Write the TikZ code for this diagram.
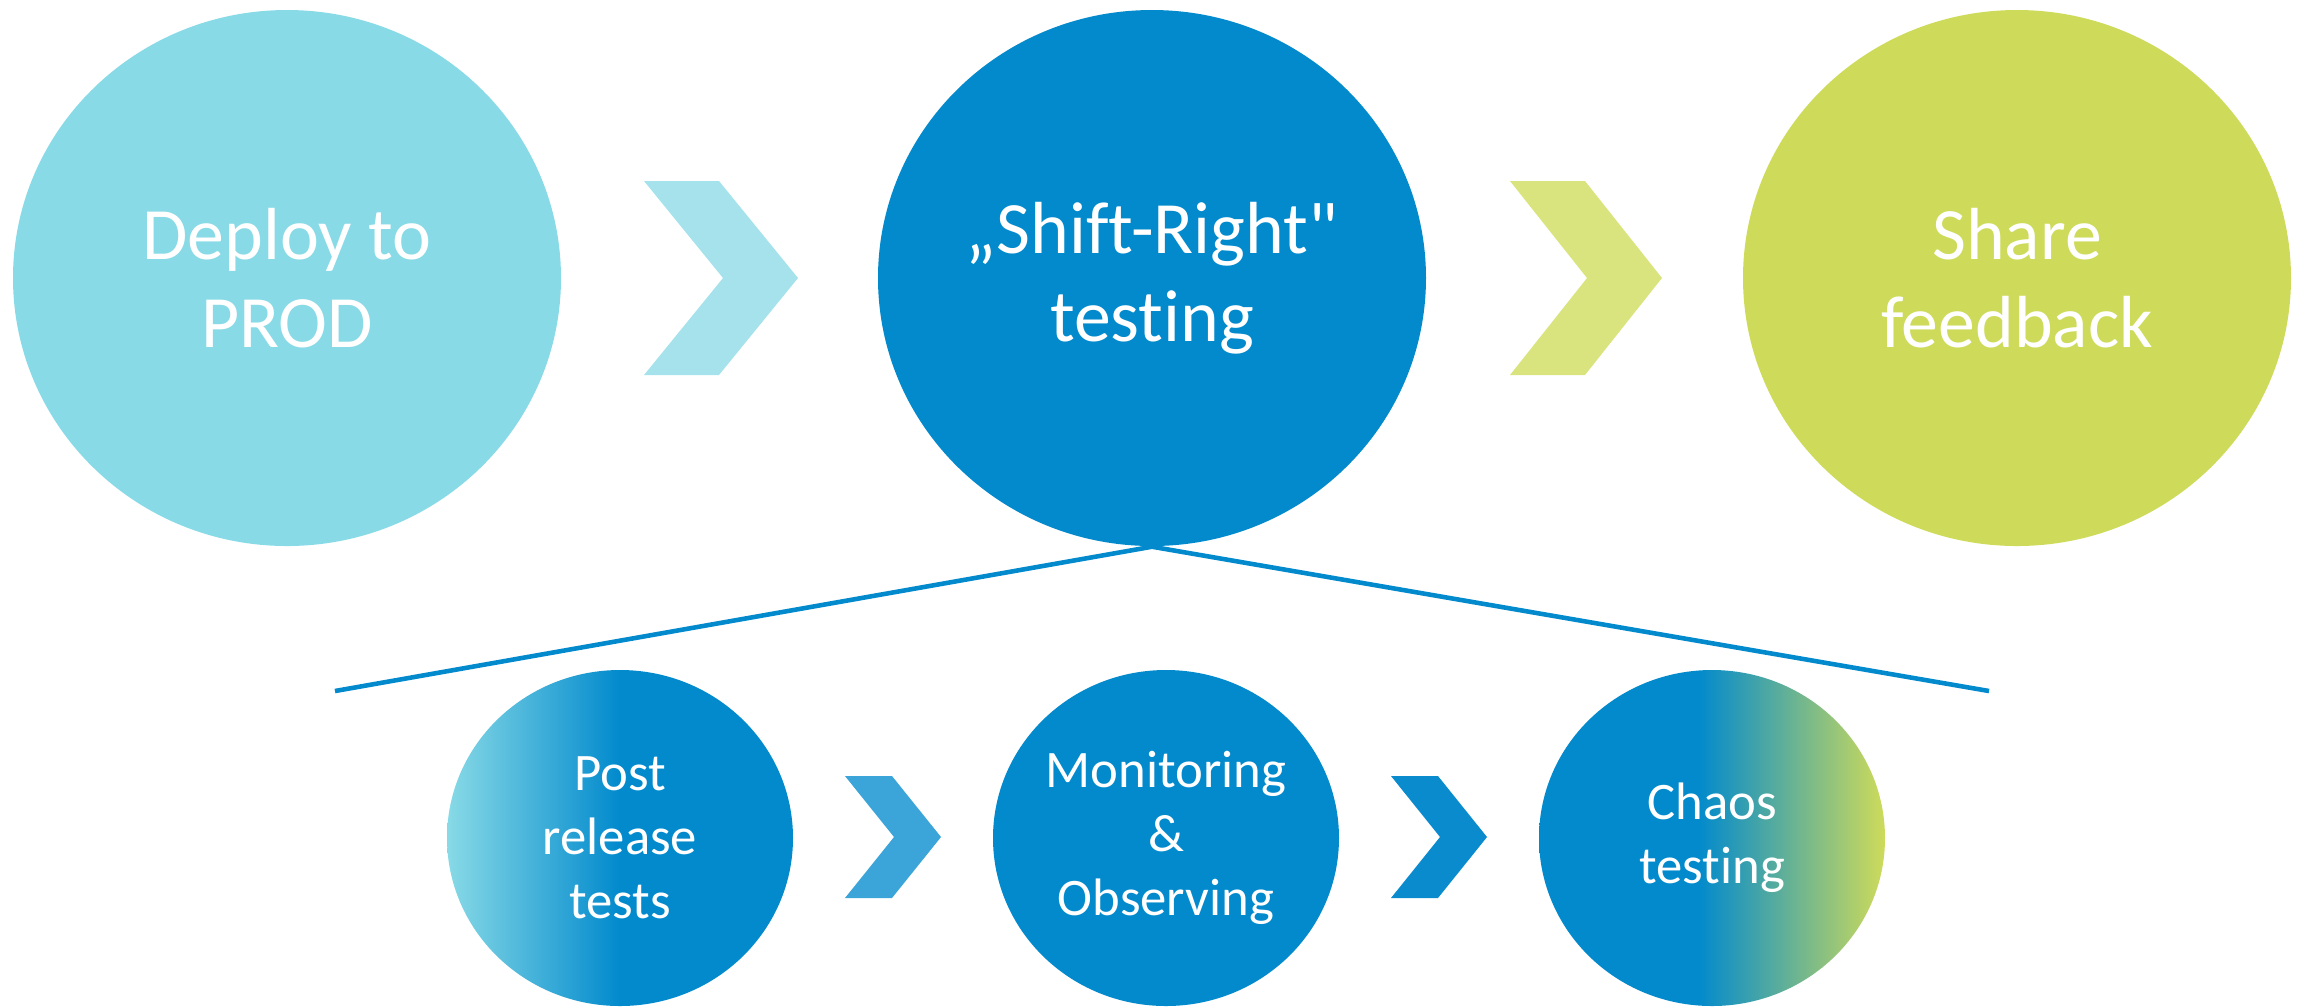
\documentclass[tikz,border=0pt]{standalone}
\usepackage{fontspec}
\newfontfamily\carl{Carlito}[Ligatures={NoCommon,NoContextual,NoRequired}]
\usetikzlibrary{shapes.geometric}
\definecolor{cyanA}{HTML}{88DAE6}
\definecolor{cyanB}{HTML}{A5E2EC}
\definecolor{blueA}{HTML}{028ACD}
\definecolor{greenA}{HTML}{CEDB5A}
\definecolor{greenB}{HTML}{DAE47E}
\definecolor{blueC}{HTML}{3BA4D8}
\definecolor{blueD}{HTML}{0A8BCD}
\pgfdeclarehorizontalshading{postshade}{100bp}{color(0bp)=(cyanA); color(25bp)=(cyanA); color(50bp)=(blueA); color(100bp)=(blueA)}
\pgfdeclarehorizontalshading{chaosshade}{100bp}{color(0bp)=(blueA); color(48bp)=(blueA); color(75bp)=(greenA); color(100bp)=(greenA)}
\tikzset{
  big/.style={ellipse, minimum width=5.48cm, minimum height=5.36cm, inner sep=0pt, text=white, align=center, font=\carl\fontsize{21}{25}\selectfont},
  small/.style={ellipse, minimum width=3.46cm, minimum height=3.36cm, inner sep=0pt, text=white, align=center, font=\carl\fontsize{15}{18.2}\selectfont},
  link/.style={draw=blueA, line width=1.3pt}
}
\begin{document}
\begin{tikzpicture}
\useasboundingbox (0,0) rectangle (23.05,-10.06);
% top chevrons
\fill[cyanB] (6.44,-1.81) -- (7.19,-1.81) -- (7.98,-2.78) -- (7.19,-3.75) -- (6.44,-3.75) -- (7.23,-2.78) -- cycle;
\fill[greenB] (15.10,-1.81) -- (15.85,-1.81) -- (16.62,-2.78) -- (15.85,-3.75) -- (15.10,-3.75) -- (15.87,-2.78) -- cycle;
% bottom chevrons
\fill[blueC] (8.45,-7.76) -- (8.92,-7.76) -- (9.41,-8.37) -- (8.92,-8.98) -- (8.45,-8.98) -- (8.94,-8.37) -- cycle;
\fill[blueD] (13.91,-7.76) -- (14.38,-7.76) -- (14.87,-8.37) -- (14.38,-8.98) -- (13.91,-8.98) -- (14.40,-8.37) -- cycle;
% top circles
\node[big, fill=cyanA] (c1) at (2.87,-2.78) {Deploy to\\PROD};
\node[big, fill=blueA] (c2) at (11.52,-2.78) {„Shift-Right"\\testing};
\node[big, fill=greenA] (c3) at (20.17,-2.78) {Share\\feedback};
% fan line
\coordinate (lL) at (3.35,-6.91);
\coordinate (lR) at (19.89,-6.91);
\draw[link] (lL) -- (c2.south) -- (lR);
% bottom circles
\node[small, shading=postshade] (s1) at (6.20,-8.38) {Post\\release\\tests};
\node[small, fill=blueA] (s2) at (11.66,-8.38) {Monitoring\\\&\\Observing};
\node[small, shading=chaosshade] (s3) at (17.12,-8.38) {Chaos\\testing};
\end{tikzpicture}
\end{document}
